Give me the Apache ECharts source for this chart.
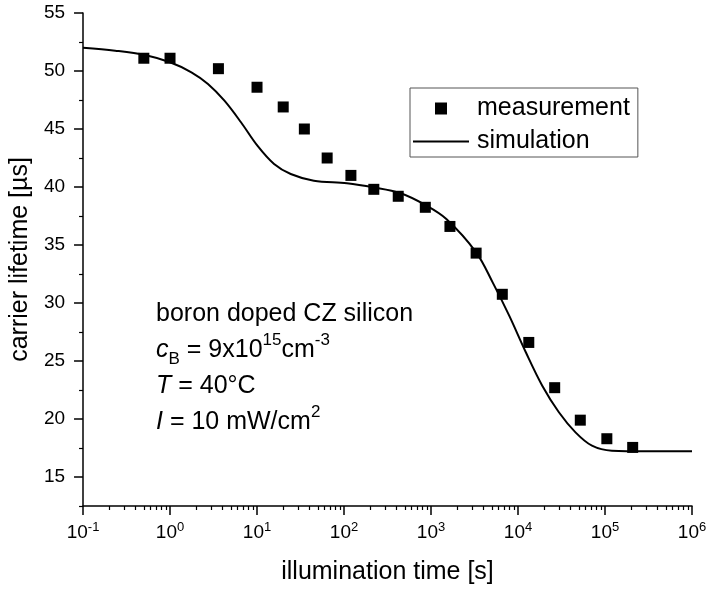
<!DOCTYPE html>
<html>
<head>
<meta charset="utf-8">
<script src="https://cdn.jsdelivr.net/npm/echarts@6/dist/echarts.min.js"></script>
<style>html,body{margin:0;padding:0;background:#fff}#c{width:710px;height:590px}</style>
</head>
<body>
<div id="c"></div>
<script>
// measured data
const measTime = [0.5, 1, 3.6, 10, 20, 35, 64, 120, 220, 420, 860, 1650, 3300, 6600, 13300, 26400, 52000, 105000, 208000];
const measLifetime = [51.1, 51.1, 50.2, 48.6, 46.9, 45.0, 42.5, 41.0, 39.8, 39.2, 38.25, 36.6, 34.3, 30.75, 26.6, 22.7, 19.9, 18.3, 17.55];
// simulation curve
const simTime = [0.1, 0.234, 0.514, 1.0, 1.76, 2.73, 4.22, 6.54, 10.1, 15.7, 24.4, 45, 108, 218, 440, 860, 1500, 3300, 5110, 7920, 12300, 19000, 29500, 45800, 70800, 120000, 300000, 1000000];
const simLifetime = [52.0, 51.75, 51.38, 50.75, 49.89, 48.88, 47.44, 45.58, 43.56, 41.98, 41.12, 40.54, 40.32, 39.97, 39.48, 38.45, 37.24, 34.37, 31.78, 28.91, 25.75, 22.87, 20.58, 18.85, 17.7, 17.27, 17.22, 17.22];
// axis ticks
const yMajorTicks = [15, 20, 25, 30, 35, 40, 45, 50, 55];
const yMinorTicks = [12.5, 17.5, 22.5, 27.5, 32.5, 37.5, 42.5, 47.5, 52.5];
const xMin = 0.1, xMax = 1e6, yMin = 12.5, yMax = 55;

const FF = '"Liberation Sans", Arial, sans-serif';
const chart = echarts.init(document.getElementById('c'), null, {renderer: 'canvas'});
const option = {
  animation: false,
  backgroundColor: '#fff',
  textStyle: {fontFamily: FF, color: '#000'},
  grid: {left: 81, right: 18, top: 13, bottom: 82, containLabel: false},
  legend: {
    orient: 'vertical', left: 410, top: 88,
    itemWidth: 56, itemHeight: 12, itemGap: 8,
    padding: [8, 8, 3, 3],
    borderColor: '#555', borderWidth: 1,
    symbolKeepAspect: true,
    textStyle: {fontSize: 25, fontFamily: FF, color: '#000', padding: [0, 0, 0, 3]},
    data: [
      {name: 'measurement', icon: 'path://M0 0H10V10H0Z', itemStyle: {color: '#000', opacity: 1}},
      {name: 'simulation', icon: 'path://M0 0H56V2H0Z', itemStyle: {color: '#000', opacity: 1}}
    ]
  },
  xAxis: {
    type: 'log', logBase: 10, min: xMin, max: xMax, splitNumber: 10,
    name: 'illumination time [s]', nameLocation: 'middle', nameGap: 54,
    nameTextStyle: {fontSize: 25, fontFamily: FF, color: '#000'},
    axisLine: {lineStyle: {color: '#000', width: 1.5}},
    axisTick: {inside: false, length: 9, lineStyle: {color: '#000', width: 1.5}},
    minorTick: {show: true, splitNumber: 9, length: 4, lineStyle: {color: '#000', width: 1.2}},
    splitLine: {show: false},
    axisLabel: {
      margin: 15, fontSize: 19, color: '#000', fontFamily: FF, lineHeight: 24,
      formatter: function (v) { return '10{sup|' + Math.round(Math.log10(v)) + '}'; },
      rich: {sup: {fontSize: 13, lineHeight: 10, verticalAlign: 'top', fontFamily: FF, color: '#000'}}
    }
  },
  yAxis: [{
    type: 'value', min: yMin, max: yMax,
    name: 'carrier lifetime [µs]', nameLocation: 'middle', nameGap: 42,
    nameTextStyle: {fontSize: 25, fontFamily: FF, color: '#000'},
    axisLine: {show: true, lineStyle: {color: '#000', width: 1.5}},
    axisTick: {show: true, inside: false, length: 9, customValues: yMajorTicks, lineStyle: {color: '#000', width: 1.5}},
    axisLabel: {margin: 18, fontSize: 19, color: '#000', fontFamily: FF, customValues: yMajorTicks},
    splitLine: {show: false}
  }, {
    type: 'value', min: yMin, max: yMax, position: 'left', offset: 0,
    axisLine: {show: false},
    axisTick: {show: true, inside: false, length: 4, customValues: yMinorTicks, lineStyle: {color: '#000', width: 1.2}},
    axisLabel: {show: false},
    splitLine: {show: false}
  }],
  series: [{
    name: 'measurement', type: 'scatter', symbol: 'rect', symbolSize: 11,
    itemStyle: {color: '#000', opacity: 1},
    data: measTime.map((t, i) => [t, measLifetime[i]]),
    z: 3
  }, {
    name: 'simulation', type: 'line', smooth: 0.35, symbol: 'none', showSymbol: false,
    lineStyle: {color: '#000', width: 2},
    itemStyle: {color: '#000'},
    data: simTime.map((t, i) => [t, simLifetime[i]]),
    z: 2
  }],
  graphic: [{
    type: 'text', left: 156, top: 296,
    style: {
      text: 'boron doped CZ silicon\n{i|c}{sub|B} = 9x10{sup|15}cm{sup|-3}\n{i|T} = 40°C\n{i|I} = 10 mW/cm{sup|2}',
      fontSize: 25, fontFamily: FF, fill: '#000', lineHeight: 36,
      rich: {
        i: {fontStyle: 'italic', fontSize: 25, fontFamily: FF, lineHeight: 36, fill: '#000'},
        sub: {fontSize: 17, fontFamily: FF, lineHeight: 18, verticalAlign: 'bottom', fill: '#000'},
        sup: {fontSize: 17, fontFamily: FF, lineHeight: 8, verticalAlign: 'top', fill: '#000'}
      }
    }
  }]
};
chart.setOption(option);
</script>
</body>
</html>
